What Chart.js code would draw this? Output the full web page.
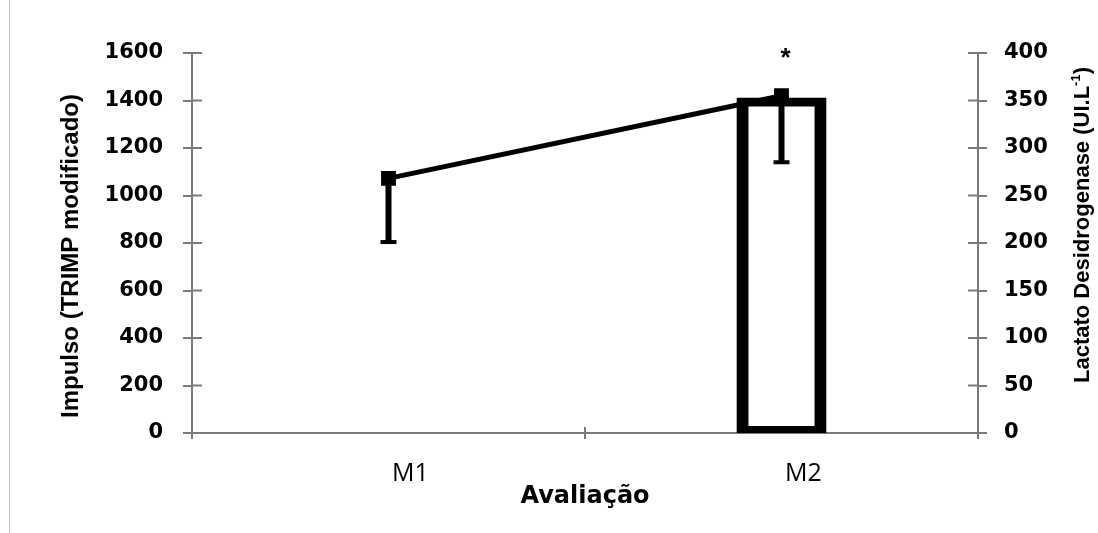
<!DOCTYPE html>
<html>
<head>
<meta charset="utf-8">
<script src="https://cdn.jsdelivr.net/npm/chart.js@4.4.1/dist/chart.umd.min.js"></script>
<style>
  html, body { margin: 0; padding: 0; background: #fff; }
  #wrap { position: relative; width: 1098px; height: 533px; }
  #edge { position: absolute; left: 9px; top: 0; width: 1px; height: 533px; background: #c4c4c4; }
</style>
</head>
<body>
<div id="wrap">
  <canvas id="myChart" width="1098" height="533"></canvas>
  <div id="edge"></div>
</div>
<script>
const categories = ['M1', 'M2'];
const impulso = [null, 1400];   // TRIMP modificado, eixo esquerdo
const ldh = [268, 355];         // LDH (UI.L-1), eixo direito
const ldhErr = [67, 70];        // desvio, desenhado só para baixo
const marks = ['', '*'];

const leftTitle = 'Impulso (TRIMP modificado)';
const rightTitle = ['Lactato Desidrogenase (UI.L', '-1', ')'];
const xTitle = 'Avaliação';

const axisColor = '#7a7a7a';
const tickFont = { family: 'DejaVu Sans', size: 21, weight: 'bold' };

// error bars, inner tick halves, y titles and the asterisk
const extras = {
    id: 'extras',
    afterDatasetsDraw(chart) {
        const c = chart.ctx, x = chart.scales.x, y1 = chart.scales.y1;
        c.save();
        c.fillStyle = '#000';
        ldh.forEach((v, i) => {
            const px = x.getPixelForValue(i);
            const top = y1.getPixelForValue(v);
            const bot = y1.getPixelForValue(v - ldhErr[i]);
            c.fillRect(px - 3, top, 6, bot - top);
            c.fillRect(px - 8, bot - 2, 16, 4);
        });
        c.restore();
    },
    afterDraw(chart) {
        const c = chart.ctx, { x, y, y1 } = chart.scales;
        c.save();
        c.strokeStyle = axisColor;
        c.lineWidth = 2;
        c.beginPath();
        y.ticks.forEach((t, i) => {
            const p = y.getPixelForTick(i);
            c.moveTo(y.right, p); c.lineTo(y.right + 10, p);
        });
        y1.ticks.forEach((t, i) => {
            const p = y1.getPixelForTick(i);
            c.moveTo(y1.left - 10, p); c.lineTo(y1.left, p);
        });
        for (let i = 1; i < categories.length; i++) {
            const p = (x.getPixelForValue(i - 1) + x.getPixelForValue(i)) / 2;
            c.moveTo(p, x.top - 6); c.lineTo(p, x.top);
        }
        c.stroke();

        c.fillStyle = '#000';
        c.font = 'bold 26px "Liberation Sans"';
        c.textAlign = 'center';
        c.textBaseline = 'alphabetic';
        marks.forEach((m, i) => {
            if (!m) return;
            c.fillText(m, x.getPixelForValue(i) + 4, y1.getPixelForValue(ldh[i]) - 30);
        });

        c.save();
        c.translate(71, 256);
        c.rotate(-Math.PI / 2);
        c.textBaseline = 'middle';
        c.font = 'bold 24px "Liberation Sans"';
        c.fillText(leftTitle, 0, 0);
        c.restore();

        c.save();
        c.translate(1083, 225);
        c.rotate(-Math.PI / 2);
        c.textAlign = 'left';
        c.textBaseline = 'middle';
        const fMain = 'bold 22px "Liberation Sans"', fSup = 'bold 13px "Liberation Sans"';
        c.font = fMain;
        const w0 = c.measureText(rightTitle[0]).width, w2 = c.measureText(rightTitle[2]).width;
        c.font = fSup;
        const w1 = c.measureText(rightTitle[1]).width;
        let sx = -(w0 + w1 + w2) / 2;
        c.font = fMain; c.fillText(rightTitle[0], sx, 0); sx += w0;
        c.font = fSup; c.fillText(rightTitle[1], sx, -7); sx += w1;
        c.font = fMain; c.fillText(rightTitle[2], sx, 0);
        c.restore();
        c.restore();
    }
};

const ctx = document.getElementById('myChart').getContext('2d');
const myChart = new Chart(ctx, {
    data: {
        labels: categories,
        datasets: [{
            type: 'line',
            label: 'Lactato Desidrogenase',
            data: ldh,
            yAxisID: 'y1',
            borderColor: '#000',
            borderWidth: 5,
            pointStyle: 'rect',
            pointRadius: 10.5,
            pointBackgroundColor: '#000',
            pointBorderWidth: 0,
            tension: 0,
            order: 0
        }, {
            type: 'bar',
            label: 'Impulso',
            data: impulso,
            yAxisID: 'y',
            backgroundColor: 'rgba(0,0,0,0)',
            borderColor: '#000',
            borderWidth: { top: 3, bottom: 3, left: 6, right: 6 },
            borderSkipped: false,
            inflateAmount: 3,
            barPercentage: 0.214,
            categoryPercentage: 1,
            order: 1
        }]
    },
    options: {
        responsive: false,
        animation: false,
        layout: { padding: { top: 53, left: 0, right: 0, bottom: 0 } },
        plugins: {
            legend: { display: false },
            tooltip: { enabled: false }
        },
        scales: {
            x: {
                type: 'category',
                offset: true,
                grid: { offset: true, drawOnChartArea: false, tickLength: 6, color: axisColor, lineWidth: 2 },
                border: { color: axisColor, width: 2 },
                ticks: { font: { family: 'Open Sans', size: 25 }, color: '#000', padding: 20, labelOffset: 22, maxRotation: 0 },
                title: {
                    display: true,
                    text: xTitle,
                    color: '#000',
                    font: { family: 'DejaVu Sans', size: 24, weight: 'bold' },
                    padding: { top: 0, bottom: 22 }
                },
                afterFit(s) { s.height = 100; }
            },
            y: {
                position: 'left',
                min: 0,
                max: 1600,
                ticks: { stepSize: 200, format: { useGrouping: false }, font: tickFont, color: '#000', padding: 20 },
                grid: { drawOnChartArea: false, tickLength: 9, color: axisColor, lineWidth: 2 },
                border: { color: axisColor, width: 2 },
                afterFit(s) { s.width = 192; }
            },
            y1: {
                position: 'right',
                min: 0,
                max: 400,
                ticks: { stepSize: 50, format: { useGrouping: false }, font: tickFont, color: '#000', padding: 17 },
                grid: { drawOnChartArea: false, tickLength: 9, color: axisColor, lineWidth: 2 },
                border: { color: axisColor, width: 2 },
                afterFit(s) { s.width = 120; }
            }
        }
    },
    plugins: [extras]
});
</script>
</body>
</html>
